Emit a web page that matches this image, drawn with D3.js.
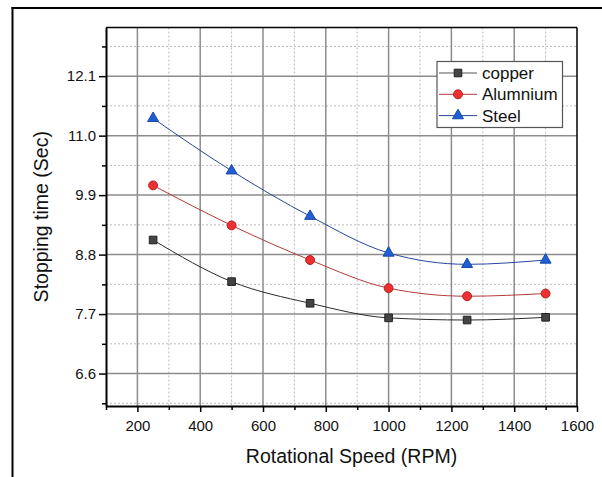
<!DOCTYPE html>
<html>
<head>
<meta charset="utf-8">
<script src="https://cdn.jsdelivr.net/npm/d3@7"></script>
<style>
  html, body { margin: 0; padding: 0; background: #fff; }
  svg { display: block; }
  text { font-family: Arial, "Liberation Sans", sans-serif; fill: #111; }
</style>
</head>
<body>
<script>
const speeds = [250, 500, 750, 1000, 1250, 1500];
const copper = [9.07, 8.30, 7.90, 7.63, 7.59, 7.64];
const aluminium = [10.08, 9.34, 8.70, 8.18, 8.03, 8.08];
const steel = [11.32, 10.35, 9.51, 8.83, 8.62, 8.70];
const seriesNames = ["copper", "Alumnium", "Steel"];
const xTicks = [200, 400, 600, 800, 1000, 1200, 1400, 1600];
const xMinor = [100, 300, 500, 700, 900, 1100, 1300, 1500];
const yTicks = [6.6, 7.7, 8.8, 9.9, 11.0, 12.1];
const yMinor = [6.05, 7.15, 8.25, 9.35, 10.45, 11.55, 12.65];

const W = 602, H = 477;
const L = 106, T = 27.5, R = 577, B = 406;
const FONT = "Arial, 'Liberation Sans', sans-serif";

const svg = d3.select("body").append("svg").attr("width", W).attr("height", H);

// outer frame
svg.append("line").attr("x1", 12.5).attr("x2", 12.5).attr("y1", 7).attr("y2", H).attr("stroke", "#000").attr("stroke-width", 2);
svg.append("line").attr("x1", 11.5).attr("x2", W).attr("y1", 8).attr("y2", 8).attr("stroke", "#000").attr("stroke-width", 2);

const x = d3.scaleLinear().domain([100, 1600]).range([L, R]);
const y = d3.scaleLinear().domain([6.0, 13.0]).range([B, T]);

const g = svg.append("g");

// minor grid (dotted)
g.selectAll(".vminor").data(xMinor.filter(v => v > 100)).enter().append("line")
  .attr("x1", d => x(d)).attr("x2", d => x(d)).attr("y1", T).attr("y2", B)
  .attr("stroke", "#bbb").attr("stroke-width", 1).attr("stroke-dasharray", "2,2");
g.selectAll(".hminor").data(yMinor).enter().append("line")
  .attr("x1", L).attr("x2", R).attr("y1", d => y(d)).attr("y2", d => y(d))
  .attr("stroke", "#bbb").attr("stroke-width", 1).attr("stroke-dasharray", "2,2");
// major grid
g.selectAll(".vmajor").data(xTicks.filter(v => v < 1600)).enter().append("line")
  .attr("x1", d => x(d)).attr("x2", d => x(d)).attr("y1", T).attr("y2", B)
  .attr("stroke", "#8c8c8c").attr("stroke-width", 1.5);
g.selectAll(".hmajor").data(yTicks).enter().append("line")
  .attr("x1", L).attr("x2", R).attr("y1", d => y(d)).attr("y2", d => y(d))
  .attr("stroke", "#8c8c8c").attr("stroke-width", 1.5);

// frame top/right
svg.append("line").attr("x1", L).attr("x2", R).attr("y1", T).attr("y2", T).attr("stroke", "#000").attr("stroke-width", 1.5);
svg.append("line").attr("x1", R).attr("x2", R).attr("y1", T).attr("y2", B).attr("stroke", "#000").attr("stroke-width", 1.5);

// axes
const xAxis = d3.axisBottom(x).tickValues(xTicks).tickSize(6).tickSizeOuter(0).tickPadding(8).tickFormat(d3.format("d"));
const xg = svg.append("g").attr("transform", `translate(0,${B})`).call(xAxis);
xg.select(".domain").attr("stroke", "#000").attr("stroke-width", 2);
xg.selectAll(".tick line").attr("stroke", "#000").attr("stroke-width", 1.5);
xg.selectAll("text").attr("font-size", 15).attr("fill", "#111").style("font-family", FONT);
const xmg = svg.append("g").attr("transform", `translate(0,${B})`).call(d3.axisBottom(x).tickValues(xMinor).tickSize(4).tickFormat(""));
xmg.select(".domain").remove();
xmg.selectAll(".tick line").attr("stroke", "#000").attr("stroke-width", 1.5);

const yAxis = d3.axisLeft(y).tickValues(yTicks).tickSize(7).tickSizeOuter(0).tickPadding(3).tickFormat(d3.format(".1f"));
const yg = svg.append("g").attr("transform", `translate(${L},0)`).call(yAxis);
yg.select(".domain").attr("stroke", "#000").attr("stroke-width", 2);
yg.selectAll(".tick line").attr("stroke", "#000").attr("stroke-width", 1.5);
yg.selectAll("text").attr("font-size", 15).attr("fill", "#111").style("font-family", FONT);
const ymg = svg.append("g").attr("transform", `translate(${L},0)`).call(d3.axisLeft(y).tickValues(yMinor).tickSize(4).tickFormat(""));
ymg.select(".domain").remove();
ymg.selectAll(".tick line").attr("stroke", "#000").attr("stroke-width", 1.5);

// axis titles
svg.append("text").attr("x", (L + R) / 2 + 10).attr("y", 463).attr("text-anchor", "middle")
  .attr("font-size", 19.5).text("Rotational Speed (RPM)");
svg.append("text").attr("transform", `translate(48,${(T + B) / 2}) rotate(-90)`).attr("text-anchor", "middle")
  .attr("font-size", 19.5).text("Stopping time (Sec)");

// series
const series = [
  { name: seriesNames[0], values: copper, line: "#2b2b2b", fill: "#444", stroke: "#222", shape: d3.symbolSquare, size: 58 },
  { name: seriesNames[1], values: aluminium, line: "#b53a3a", fill: "#ee3030", stroke: "#b02020", shape: d3.symbolCircle, size: 62 },
  { name: seriesNames[2], values: steel, line: "#2a45a0", fill: "#1f5fd6", stroke: "#1a47a8", shape: d3.symbolTriangle, size: 52 }
];

const line = d3.line().x((d, i) => x(speeds[i])).y(d => y(d)).curve(d3.curveMonotoneX);

series.forEach(s => {
  svg.append("path").datum(s.values).attr("d", line).attr("fill", "none").attr("stroke", s.line).attr("stroke-width", 1);
  svg.selectAll(null).data(s.values).enter().append("path")
    .attr("d", d3.symbol().type(s.shape).size(s.size))
    .attr("transform", (d, i) => `translate(${x(speeds[i])},${y(d)})`)
    .attr("fill", s.fill).attr("stroke", s.stroke).attr("stroke-width", 1);
});

// legend
const lg = svg.append("g");
lg.append("rect").attr("x", 437).attr("y", 61.5).attr("width", 125.5).attr("height", 66)
  .attr("fill", "#fff").attr("stroke", "#555").attr("stroke-width", 1.2);
series.forEach((s, i) => {
  const yy = 73 + i * 21.3;
  lg.append("line").attr("x1", 439).attr("x2", 477).attr("y1", yy).attr("y2", yy).attr("stroke", s.line === "#2b2b2b" ? "#555" : s.line).attr("stroke-width", 1);
  lg.append("path").attr("d", d3.symbol().type(s.shape).size(s.size)).attr("transform", `translate(458,${yy})`)
    .attr("fill", s.fill).attr("stroke", s.stroke).attr("stroke-width", 1);
  lg.append("text").attr("x", 482).attr("y", yy + 6).attr("font-size", 17).text(s.name);
});
</script>
</body>
</html>
